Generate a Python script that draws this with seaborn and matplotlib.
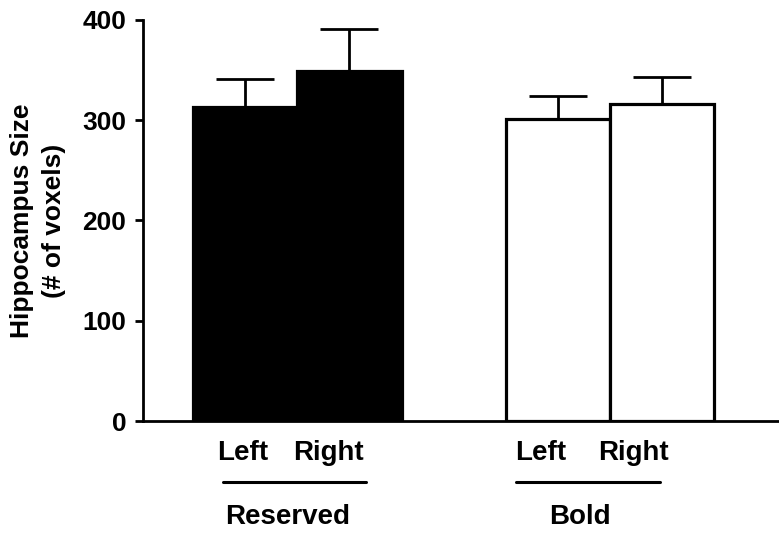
import matplotlib
matplotlib.use("Agg")
import matplotlib.pyplot as plt
import seaborn as sns
import pandas as pd

# data
groups = ["Reserved", "Reserved", "Bold", "Bold"]
sides = ["Left", "Right", "Left", "Right"]
sizes = [313, 349, 301, 316]
sem = [28, 42, 23, 27]
fills = ["black", "black", "white", "white"]
yticks = [0, 100, 200, 300, 400]

sns.set_style("ticks")
plt.rcParams["font.family"] = ["Liberation Sans", "DejaVu Sans"]
plt.rcParams["font.weight"] = "bold"
plt.rcParams["axes.labelweight"] = "bold"
plt.rcParams["text.color"] = "black"
plt.rcParams["axes.labelcolor"] = "black"
plt.rcParams["ytick.color"] = "black"

df = pd.DataFrame({"group": groups, "side": sides, "size": sizes})
df["bar"] = df["group"] + " " + df["side"]
# blank slots keep the gap before and between the two groups
order = ["_a", df["bar"][0], df["bar"][1], "_b", df["bar"][2], df["bar"][3]]
pal = dict(zip(df["bar"], fills))

fig = plt.figure(figsize=(7.79, 5.37), dpi=100)
ax = fig.add_axes([0.1836, 0.216, 0.8164, 0.7468])

sns.barplot(data=df, x="bar", y="size", hue="bar", order=order, palette=pal,
            width=1, edgecolor="black", linewidth=2.3, legend=False, ax=ax)

xpos = [order.index(b) for b in df["bar"]]
ax.errorbar(xpos, df["size"], yerr=[[0] * len(sem), sem], fmt="none",
            ecolor="black", elinewidth=2.0, capsize=21, capthick=2.0, zorder=1)

ax.set_xlim(0.02, 6.12)
ax.set_ylim(0, 400)
ax.set_yticks(yticks)
ax.set_yticklabels([str(t) for t in yticks], fontsize=19, fontweight="bold",
                   color="black")
ax.set_xticks([])
ax.set_xlabel("")
ax.set_ylabel("Hippocampus Size\n(# of voxels)", fontsize=19, fontweight="bold",
              linespacing=1.4, va="center", ha="center", color="black")
ax.yaxis.set_label_coords(-0.165, 0.5)
ax.tick_params(axis="y", length=6, width=2, pad=6, direction="out",
               colors="black")
sns.despine(ax=ax)
for s in ["left", "bottom"]:
    ax.spines[s].set_linewidth(2)
    ax.spines[s].set_color("black")

# side labels, underlines and group names under the axis
tr = ax.get_xaxis_transform()
side_x = [0.98, 1.80, 3.83, 4.72]
for x, s in zip(side_x, sides):
    ax.text(x, -0.08, s, transform=tr, ha="center", va="center",
            fontsize=20, fontweight="bold", color="black")
group_names = ["Reserved", "Bold"]
group_x = [1.41, 4.21]
line_x = [(0.79, 2.16), (3.6, 4.98)]
for name, gx, (x0, x1) in zip(group_names, group_x, line_x):
    ax.plot([x0, x1], [-0.152, -0.152], transform=tr, color="black",
            lw=2.2, clip_on=False, solid_capstyle="round")
    ax.text(gx, -0.24, name, transform=tr, ha="center", va="center",
            fontsize=20, fontweight="bold", color="black")

fig.savefig("out.png", dpi=100)
